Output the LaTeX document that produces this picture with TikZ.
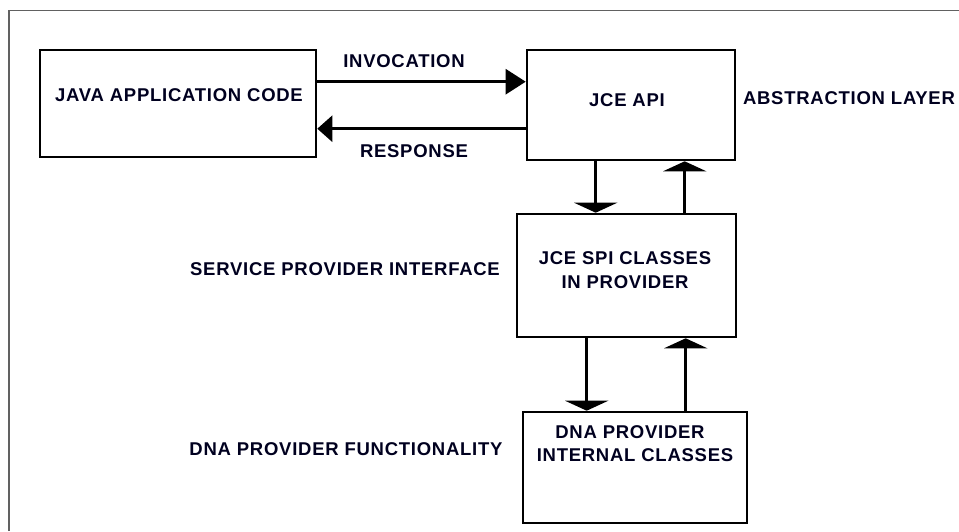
\documentclass[tikz,border=0pt]{standalone}
\usepackage{fontspec}
\setmainfont{Liberation Sans}
\usetikzlibrary{arrows.meta}
\begin{document}
\begin{tikzpicture}[x=1pt,y=-1pt,
  box/.style={draw=black,line width=2.6pt,inner sep=0pt},
  txt/.style={font=\fontsize{18.5}{22}\selectfont\bfseries\addfontfeature{LetterSpace=4},text=black!88!blue,inner sep=0pt,align=center},
  harr/.style={line width=2.6pt,-{Triangle[length=20pt,width=25pt]}},
  rarr/.style={line width=2.6pt,-{Triangle[length=15pt,width=26pt]}},
  varr/.style={line width=2.6pt,-{Triangle[length=10pt,width=43pt]}}]
\useasboundingbox (0,0) rectangle (959,531);
\draw[line width=1.6pt,draw=black!62] (9,531) -- (9,10.5) -- (959,10.5);
% boxes
\node[box,minimum width=276pt,minimum height=107pt] (java) at (178,103.5) {};
\node[box,minimum width=208pt,minimum height=110pt] (api) at (631,105) {};
\node[box,minimum width=219pt,minimum height=123pt] (spi) at (626.5,275.5) {};
\node[box,minimum width=224pt,minimum height=111pt] (dna) at (635,467.5) {};
% box texts
\node[txt] (tjava) at (179,95.5) {JAVA APPLICATION CODE};
\node[txt] (tapi) at (627,100.5) {JCE API};
\node[txt] (tspi1) at (625,258) {JCE SPI CLASSES};
\node[txt] (tspi2) at (625,282) {IN PROVIDER};
\node[txt] (tdna1) at (630,432) {DNA PROVIDER};
\node[txt] (tdna2) at (635,455.5) {INTERNAL CLASSES};
% side texts
\node[txt] (tinv) at (404,61.5) {INVOCATION};
\node[txt] (tresp) at (414,151) {RESPONSE};
\node[txt] (tabs) at (849,98) {ABSTRACTION LAYER};
\node[txt] (tsvc) at (345,269.5) {SERVICE PROVIDER INTERFACE};
\node[txt] (tfun) at (346,449.5) {DNA PROVIDER FUNCTIONALITY};
% connectors
\draw[harr] ([yshift=-33pt]java.north east) -- ([yshift=-33pt]java.north east -| api.west);
\draw[rarr] ([yshift=-80pt]api.north west) -- ([yshift=-80pt]api.north west -| java.east);
\draw[varr] ([xshift=70pt]api.south west) -- ([xshift=70pt]api.south west |- spi.north);
\draw[varr] ([xshift=169pt]spi.north west) -- ([xshift=169pt]spi.north west |- api.south);
\draw[varr] ([xshift=71pt]spi.south west) -- ([xshift=71pt]spi.south west |- dna.north);
\draw[varr] ([xshift=170pt]spi.south west |- dna.north) -- ([xshift=170pt]spi.south west);
\end{tikzpicture}
\end{document}
